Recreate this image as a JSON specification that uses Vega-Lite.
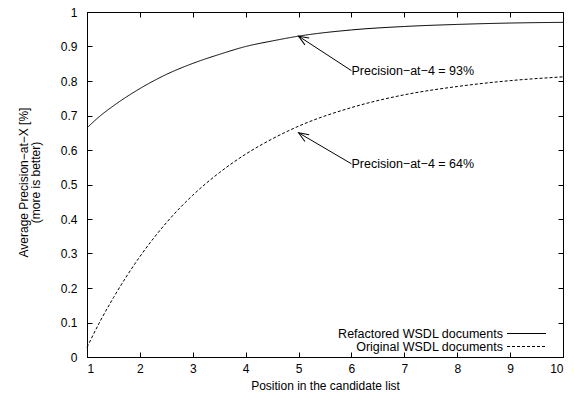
{
  "$schema": "https://vega.github.io/schema/vega-lite/v6.json",
  "width": 476,
  "height": 345,
  "autosize": "none",
  "padding": {"left": 87, "top": 12, "right": 11, "bottom": 43},
  "background": "white",
  "config": {
    "font": "Liberation Sans",
    "view": {"stroke": "black", "strokeWidth": 1},
    "axis": {
      "grid": false,
      "domainColor": "black",
      "tickColor": "black",
      "tickSize": -5,
      "labelFontSize": 12,
      "labelColor": "black",
      "titleFontSize": 12,
      "titleFontWeight": "normal",
      "titleColor": "black"
    },
    "legend": {
      "orient": "none",
      "legendX": 433,
      "legendY": 315,
      "symbolType": "M-3.25,0H3.25",
      "symbolSize": 144,
      "symbolStrokeWidth": 1,
      "symbolStrokeColor": "black",
      "labelAlign": "right",
      "labelOffset": -30,
      "labelFontSize": 12.5,
      "labelLimit": 400,
      "labelColor": "black",
      "rowPadding": 0,
      "padding": 0
    }
  },
  "datasets": {
    "curves": [
      {"x": 1, "y": 0.664, "series": "Refactored WSDL documents"},
      {"x": 1.25, "y": 0.699, "series": "Refactored WSDL documents"},
      {"x": 1.5, "y": 0.728, "series": "Refactored WSDL documents"},
      {"x": 2, "y": 0.778, "series": "Refactored WSDL documents"},
      {"x": 2.5, "y": 0.819, "series": "Refactored WSDL documents"},
      {"x": 3, "y": 0.851, "series": "Refactored WSDL documents"},
      {"x": 3.5, "y": 0.877, "series": "Refactored WSDL documents"},
      {"x": 4, "y": 0.900, "series": "Refactored WSDL documents"},
      {"x": 4.5, "y": 0.916, "series": "Refactored WSDL documents"},
      {"x": 5, "y": 0.930, "series": "Refactored WSDL documents"},
      {"x": 6, "y": 0.948, "series": "Refactored WSDL documents"},
      {"x": 7, "y": 0.958, "series": "Refactored WSDL documents"},
      {"x": 8, "y": 0.964, "series": "Refactored WSDL documents"},
      {"x": 9, "y": 0.968, "series": "Refactored WSDL documents"},
      {"x": 10, "y": 0.970, "series": "Refactored WSDL documents"},
      {"x": 1, "y": 0.028, "series": "Original WSDL documents"},
      {"x": 1.25, "y": 0.104, "series": "Original WSDL documents"},
      {"x": 1.5, "y": 0.172, "series": "Original WSDL documents"},
      {"x": 2, "y": 0.291, "series": "Original WSDL documents"},
      {"x": 2.5, "y": 0.389, "series": "Original WSDL documents"},
      {"x": 3, "y": 0.469, "series": "Original WSDL documents"},
      {"x": 3.5, "y": 0.534, "series": "Original WSDL documents"},
      {"x": 4, "y": 0.588, "series": "Original WSDL documents"},
      {"x": 4.5, "y": 0.632, "series": "Original WSDL documents"},
      {"x": 5, "y": 0.669, "series": "Original WSDL documents"},
      {"x": 6, "y": 0.723, "series": "Original WSDL documents"},
      {"x": 7, "y": 0.760, "series": "Original WSDL documents"},
      {"x": 8, "y": 0.784, "series": "Original WSDL documents"},
      {"x": 9, "y": 0.801, "series": "Original WSDL documents"},
      {"x": 10, "y": 0.812, "series": "Original WSDL documents"}
    ],
    "notes": [
      {"x": 6, "y": 0.83, "hx": 5, "hy": 0.93, "label": "Precision−at−4 = 93%"},
      {"x": 6, "y": 0.56, "hx": 5, "hy": 0.65, "label": "Precision−at−4 = 64%"}
    ]
  },
  "layer": [
    {
      "data": {"name": "curves"},
      "mark": {"type": "line", "color": "black", "strokeWidth": 1, "interpolate": "monotone"},
      "encoding": {
        "x": {
          "field": "x", "type": "quantitative",
          "scale": {"domain": [1, 10], "nice": false, "zero": false},
          "axis": {"orient": "bottom", "values": [1,2,3,4,5,6,7,8,9,10], "format": "d", "title": "Position in the candidate list", "labelPadding": 11, "titleBaseline": "middle", "titleY": 28}
        },
        "y": {
          "field": "y", "type": "quantitative",
          "scale": {"domain": [0, 1], "nice": false},
          "axis": {"orient": "left", "values": [0,0.1,0.2,0.3,0.4,0.5,0.6,0.7,0.8,0.9,1], "format": "~g", "title": ["Average Precision−at−X [%]", "(more is better)"], "labelPadding": 15, "titleX": -57, "titleY": 170, "titleLineHeight": 12}
        },
        "strokeDash": {
          "field": "series", "type": "nominal",
          "scale": {"domain": ["Refactored WSDL documents", "Original WSDL documents"], "range": [[1, 0], [3, 2]]},
          "legend": {"title": null}
        }
      }
    },
    {
      "data": {"name": "notes"},
      "mark": {"type": "rule", "color": "black", "strokeWidth": 1},
      "encoding": {
        "x": {"field": "x", "type": "quantitative", "axis": null},
        "y": {"field": "y", "type": "quantitative", "axis": null},
        "x2": {"field": "hx"},
        "y2": {"field": "hy"}
      }
    },
    {
      "data": {"name": "notes"},
      "mark": {"type": "point", "shape": "M-0.4,1L0,0L0.4,1", "angle": -58, "size": 400, "filled": false, "stroke": "black", "strokeWidth": 1, "opacity": 1},
      "encoding": {
        "x": {"field": "hx", "type": "quantitative", "axis": null},
        "y": {"field": "hy", "type": "quantitative", "axis": null}
      }
    },
    {
      "data": {"name": "notes"},
      "mark": {"type": "text", "align": "left", "baseline": "middle", "fontSize": 12.5, "color": "black"},
      "encoding": {
        "x": {"field": "x", "type": "quantitative", "axis": null},
        "y": {"field": "y", "type": "quantitative", "axis": null},
        "text": {"field": "label"}
      }
    },
    {
      "data": {"name": "curves"},
      "mark": {"type": "line", "opacity": 0},
      "encoding": {
        "x": {"field": "x", "type": "quantitative", "axis": {"orient": "top", "values": [1,2,3,4,5,6,7,8,9,10], "labels": false, "title": null, "domain": false}},
        "y": {"field": "y", "type": "quantitative", "axis": {"orient": "right", "values": [0,0.1,0.2,0.3,0.4,0.5,0.6,0.7,0.8,0.9,1], "labels": false, "title": null, "domain": false}},
        "detail": {"field": "series"}
      }
    }
  ],
  "resolve": {"axis": {"x": "independent", "y": "independent"}}
}
